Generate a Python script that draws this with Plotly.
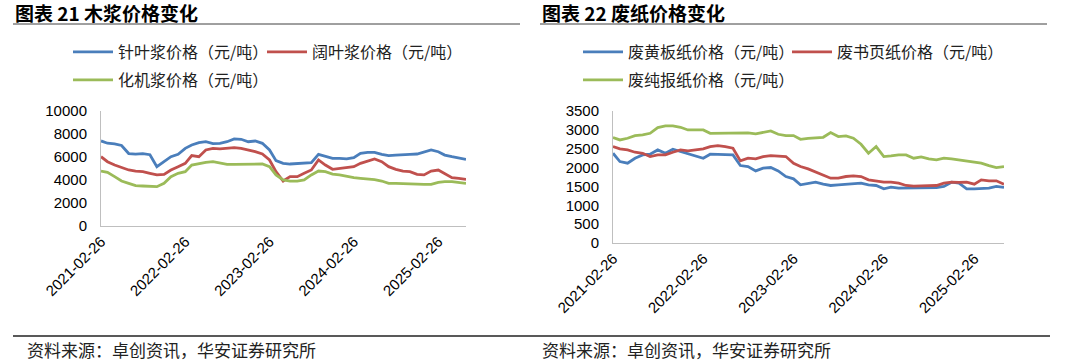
import plotly.graph_objects as go
import pandas as pd

# ---- data (monthly readings) ----
dates = pd.date_range("2021-02-26", periods=53, freq=pd.DateOffset(months=1)).strftime("%Y-%m-%d").tolist()
tick_dates = ["2021-02-26", "2022-02-26", "2023-02-26", "2024-02-26", "2025-02-26"]

softwood = [7400, 7200, 7150, 7000, 6300, 6250, 6300, 6200, 5160, 5590, 6030, 6230, 6750,
            7040, 7250, 7330, 7160, 7190, 7330, 7570, 7540, 7330, 7390, 7190, 6610, 5680,
            5450, 5390, 5450, 5510, 5510, 6230, 6090, 5880, 5880, 5830, 5940, 6320, 6410,
            6410, 6230, 6120, 6170, 6230, 6230, 6260, 6460, 6610, 6460, 6170, 6030, 5940, 5800]
hardwood = [6030, 5590, 5300, 5070, 4870, 4780, 4720, 4580, 4440, 4490, 4870, 5160, 5450,
            6120, 6030, 6610, 6750, 6700, 6750, 6810, 6750, 6610, 6460, 6260, 5740, 4720,
            3910, 4290, 4290, 4580, 4870, 5740, 5300, 4930, 5010, 5070, 5160, 5450, 5650,
            5830, 5590, 5160, 4930, 4780, 4720, 4490, 4440, 4780, 4870, 4580, 4200, 4140, 4060]
mech_pulp = [4780, 4670, 4290, 3910, 3710, 3510, 3480, 3420, 3420, 3710, 4290, 4580, 4720,
             5300, 5450, 5540, 5590, 5450, 5360, 5360, 5360, 5390, 5390, 5390, 5160, 4440,
             4000, 3910, 3910, 4000, 4440, 4780, 4720, 4520, 4440, 4290, 4200, 4140, 4090,
             4030, 3910, 3710, 3710, 3710, 3680, 3650, 3620, 3620, 3800, 3860, 3860, 3800, 3710]

yellow_board = [2380, 2160, 2116, 2248, 2336, 2354, 2468, 2380, 2486, 2424, 2363, 2319, 2248,
                2354, 2354, 2354, 2336, 2054, 2028, 1913, 1984, 2001, 1913, 1763, 1701, 1543,
                1587, 1613, 1560, 1525, 1543, 1560, 1560, 1587, 1543, 1525, 1437, 1481, 1455,
                1455, 1455, 1472, 1472, 1472, 1499, 1613, 1587, 1437, 1437, 1455, 1455, 1499, 1472]
book_page = [2557, 2495, 2468, 2407, 2380, 2292, 2336, 2336, 2407, 2468, 2442, 2468, 2495,
             2557, 2583, 2557, 2513, 2178, 2248, 2230, 2292, 2319, 2310, 2292, 2116, 2028,
             1966, 1878, 1790, 1719, 1719, 1763, 1781, 1763, 1675, 1649, 1613, 1613, 1587,
             1525, 1508, 1516, 1525, 1525, 1587, 1613, 1605, 1613, 1560, 1675, 1649, 1649, 1560]
newsprint = [2795, 2733, 2777, 2848, 2865, 2909, 3059, 3103, 3103, 3068, 2997, 2997, 2997,
             2909, 2909, 2927, 2909, 2918, 2918, 2892, 2936, 2971, 2883, 2848, 2848, 2750,
             2777, 2795, 2803, 2927, 2821, 2839, 2777, 2618, 2380, 2557, 2292, 2310, 2336,
             2336, 2248, 2283, 2230, 2204, 2248, 2230, 2204, 2178, 2160, 2116, 2054, 2001, 2028]

names_left = ["针叶浆价格（元/吨）", "阔叶浆价格（元/吨）", "化机浆价格（元/吨）"]
names_right = ["废黄板纸价格（元/吨）", "废书页纸价格（元/吨）", "废纯报纸价格（元/吨）"]

BLUE, RED, GREEN = "#4A7EBB", "#C0504D", "#9BBB59"
W, H = 1080, 361
CJK = "Noto Sans CJK SC"
LAT = "Liberation Sans, Arial"


def fx(p):
    return p / W


def fy(p):
    return 1 - p / H


fig = go.Figure()
left = [(softwood, names_left[0], BLUE, "legend"),
        (hardwood, names_left[1], RED, "legend2"),
        (mech_pulp, names_left[2], GREEN, "legend3")]
right = [(yellow_board, names_right[0], BLUE, "legend4"),
         (book_page, names_right[1], RED, "legend5"),
         (newsprint, names_right[2], GREEN, "legend6")]
for vals, nm, col, lg in left:
    fig.add_trace(go.Scatter(x=dates, y=vals, name=nm, mode="lines",
                             line=dict(color=col, width=2.8), xaxis="x", yaxis="y", legend=lg))
for vals, nm, col, lg in right:
    fig.add_trace(go.Scatter(x=dates, y=vals, name=nm, mode="lines",
                             line=dict(color=col, width=2.8), xaxis="x2", yaxis="y2", legend=lg))

axis_common = dict(showgrid=False, zeroline=False, showline=True, linecolor="#BFBFBF", linewidth=1,
                   ticks="", automargin=False, tickfont=dict(family=LAT, size=15, color="#000"))
xcommon = dict(axis_common, type="date", range=[dates[0], dates[-1]], tickvals=tick_dates,
               ticktext=tick_dates, tickangle=-45)

leg_common = dict(orientation="h", xanchor="left", yanchor="middle", bgcolor="rgba(0,0,0,0)",
                  font=dict(family=CJK, size=16, color="#222"), itemwidth=40)

fig.update_layout(
    width=W, height=H, autosize=False,
    margin=dict(l=0, r=0, t=0, b=0, pad=0),
    paper_bgcolor="white", plot_bgcolor="white",
    xaxis=dict(xcommon, domain=[fx(101), fx(466)], anchor="y"),
    yaxis=dict(axis_common, domain=[fy(226), fy(111)], range=[0, 10000], dtick=2000,
               tickformat="d", anchor="x", ticklabelstandoff=10),
    xaxis2=dict(xcommon, domain=[fx(613), fx(1004)], anchor="y2"),
    yaxis2=dict(axis_common, domain=[fy(243), fy(111)], range=[0, 3500], dtick=500,
                tickformat="d", anchor="x2", ticklabelstandoff=10),
    legend=dict(leg_common, x=fx(68), y=fy(52)),
    legend2=dict(leg_common, x=fx(262), y=fy(52)),
    legend3=dict(leg_common, x=fx(68), y=fy(80)),
    legend4=dict(leg_common, x=fx(578), y=fy(52)),
    legend5=dict(leg_common, x=fx(787), y=fy(52)),
    legend6=dict(leg_common, x=fx(578), y=fy(80)),
    showlegend=True,
)

annots = [
    dict(text="<b>图表 21 木浆价格变化</b>", x=fx(13), y=fy(12)),
    dict(text="<b>图表 22 废纸价格变化</b>", x=fx(540), y=fy(12)),
]
for a in annots:
    fig.add_annotation(xref="paper", yref="paper", xanchor="left", yanchor="middle", showarrow=False,
                       font=dict(family=CJK, size=19, color="#000"), **a)
for xs in (25, 540):
    fig.add_annotation(text="资料来源：卓创资讯，华安证券研究所", xref="paper", yref="paper",
                       x=fx(xs), y=fy(349), xanchor="left", yanchor="middle", showarrow=False,
                       font=dict(family=CJK, size=17, color="#222"))

for x0, x1 in ((13, 520), (540, 1047)):
    fig.add_shape(type="line", xref="paper", yref="paper", x0=fx(x0), x1=fx(x1), y0=fy(24), y1=fy(24),
                  line=dict(color="#404040", width=1))
fig.add_shape(type="line", xref="paper", yref="paper", x0=fx(13), x1=fx(1050), y0=fy(336), y1=fy(336),
              line=dict(color="#222", width=1.5))

fig.write_html("out.html", config={"displayModeBar": False},
               post_script="document.body.style.margin='0';document.body.style.padding='0';"
                           "document.documentElement.style.overflow='hidden';")
